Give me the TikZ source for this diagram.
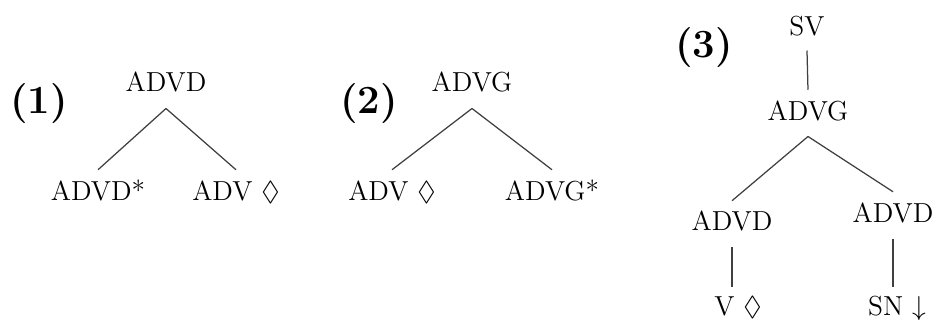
\documentclass[tikz,border=0pt]{standalone}
\usepackage{amssymb}
\usetikzlibrary{calc}
\begin{document}
\begin{tikzpicture}[x=0.4pt,y=-0.4pt,
  lab/.style={inner sep=0pt,anchor=base,font=\fontsize{11}{13}\selectfont,text height=7.5pt,text depth=0pt},
  num/.style={inner sep=0pt,anchor=center,font=\fontsize{16}{19}\selectfont\bfseries},
  edge/.style={draw=black!75,line width=0.5pt}]
\useasboundingbox (0,0) rectangle (936,320);
% tree 1
\node[num] (n1) at (39,104) {(1)};
\node[lab] (a1) at (166,92) {ADVD};
\node[lab] (a1l) at (98,200) {ADVD*};
\node[lab] (a1r) at (236,200) {ADV $\lozenge$};
\draw[edge] ($(a1.south)+(0,16)$) -- ($(a1l.north)+(0,-11)$);
\draw[edge] ($(a1.south)+(0,16)$) -- ($(a1r.north)+(0,-11)$);
% tree 2
\node[num] (n2) at (369,104) {(2)};
\node[lab] (a2) at (472,92) {ADVG};
\node[lab] (a2l) at (392,200) {ADV $\lozenge$};
\node[lab] (a2r) at (552,200) {ADVG*};
\draw[edge] ($(a2.south)+(0,16)$) -- ($(a2l.north)+(0,-11)$);
\draw[edge] ($(a2.south)+(0,16)$) -- ($(a2r.north)+(0,-11)$);
% tree 3
\node[num] (n3) at (704,48) {(3)};
\node[lab] (s3) at (807,35) {SV};
\node[lab] (g3) at (808,120) {ADVG};
\node[lab] (d3l) at (732,230) {ADVD};
\node[lab] (d3r) at (893,222) {ADVD};
\node[lab] (v3) at (738,315) {V $\lozenge$};
\node[lab] (sn3) at (897,315) {SN $\downarrow$};
\draw[edge] ($(s3.south)+(0,15)$) -- ($(g3.north)+(0,-11)$);
\draw[edge] ($(g3.south)+(0,16)$) -- ($(d3l.north)+(0,-10)$);
\draw[edge] ($(g3.south)+(0,16)$) -- ($(d3r.north)+(0,-11)$);
\draw[edge] ($(d3l.south)+(0,16)$) -- ($(d3l.south |- v3.north)+(0,-9)$);
\draw[edge] ($(d3r.south)+(0,16)$) -- ($(d3r.south |- sn3.north)+(0,-9)$);
\end{tikzpicture}
\end{document}
